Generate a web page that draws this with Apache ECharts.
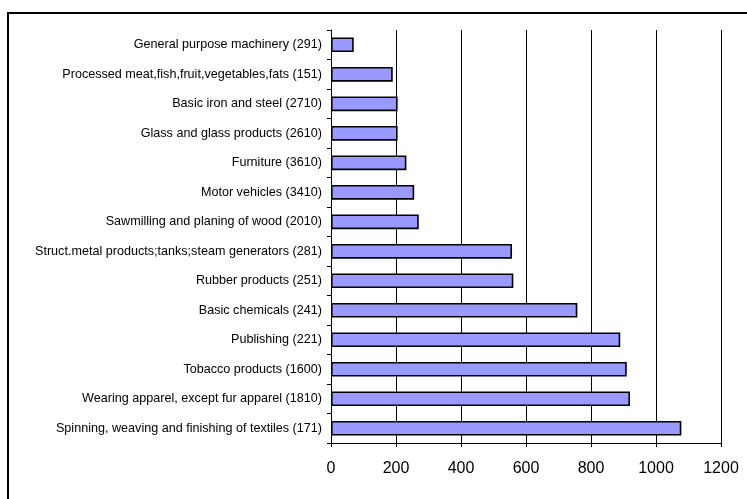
<!DOCTYPE html>
<html>
<head>
<meta charset="utf-8">
<script src="https://cdn.jsdelivr.net/npm/echarts@6/dist/echarts.min.js"></script>
<style>
html,body{margin:0;padding:0;background:#fff;}
#c{width:747px;height:499px;}
</style>
</head>
<body>
<div id="c"></div>
<script>
// Categories listed top to bottom as they appear in the chart
const categories = [
  "General purpose machinery (291)",
  "Processed meat,fish,fruit,vegetables,fats (151)",
  "Basic iron and steel (2710)",
  "Glass and glass products (2610)",
  "Furniture (3610)",
  "Motor vehicles (3410)",
  "Sawmilling and planing of wood (2010)",
  "Struct.metal products;tanks;steam generators (281)",
  "Rubber products (251)",
  "Basic chemicals (241)",
  "Publishing (221)",
  "Tobacco products (1600)",
  "Wearing apparel, except fur apparel (1810)",
  "Spinning, weaving and finishing of textiles (171)"
];
const values = [70, 190, 205, 205, 232, 256, 270, 557, 561, 758, 890, 910, 920, 1078];
const xTicks = [0, 200, 400, 600, 800, 1000, 1200];

const chart = echarts.init(document.getElementById('c'), null, {renderer: 'canvas'});
const font = '"Liberation Sans", Arial, sans-serif';
chart.setOption({
  animation: false,
  backgroundColor: '#ffffff',
  graphic: [{
    type: 'rect',
    shape: {x: 8, y: 13, width: 760, height: 520},
    style: {fill: 'none', stroke: '#000', lineWidth: 2},
    silent: true
  }],
  grid: {left: 331, right: 26, top: 30, bottom: 56, containLabel: false},
  xAxis: {
    type: 'value',
    min: xTicks[0],
    max: xTicks[xTicks.length - 1],
    interval: 200,
    axisLine: {show: true, lineStyle: {color: '#000', width: 1}},
    axisTick: {show: true, length: 4, lineStyle: {color: '#000'}},
    splitLine: {show: true, lineStyle: {color: '#000', width: 1}},
    axisLabel: {fontFamily: font, fontSize: 16, color: '#000', margin: 18,
      formatter: function (v) { return String(v); }}
  },
  yAxis: {
    type: 'category',
    inverse: true,
    data: categories,
    axisLine: {show: true, lineStyle: {color: '#000', width: 1}},
    axisTick: {show: true, length: 4, lineStyle: {color: '#000'}},
    axisLabel: {fontFamily: font, fontSize: 12.6, color: '#000', margin: 9}
  },
  series: [{
    type: 'bar',
    data: values,
    barCategoryGap: '50%',
    itemStyle: {color: '#9999FF', borderColor: '#000', borderWidth: 1.6}
  }]
});
</script>
</body>
</html>
